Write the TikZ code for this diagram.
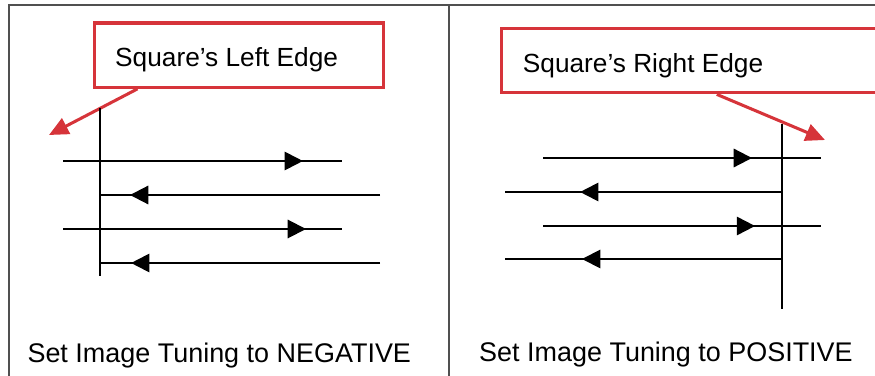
\documentclass[tikz,border=0pt]{standalone}
\usepackage{fontspec}
\setmainfont{Liberation Sans}
\usetikzlibrary{arrows.meta,calc,decorations.markings}

\definecolor{calloutred}{RGB}{214,52,58}
\definecolor{framegray}{RGB}{80,80,80}

\tikzset{
    frameline/.style={draw=framegray, line width=1.9pt},
    callout/.style={draw=calloutred, line width=2.6pt, minimum width=#1, minimum height=1.93cm, anchor=north west, inner sep=0pt},
    pointer/.style={draw=calloutred, line width=2.6pt, -{Triangle[length=0.58cm,width=0.52cm]}},
    scanline/.style={line width=1.7pt},
    flowmark/.style={postaction={decorate}, decoration={markings, mark=at position #1 with {\arrow{Triangle[length=0.55cm,width=0.55cm]}}}},
    caption/.style={font=\fontsize{23}{27}\selectfont, anchor=base west, inner sep=0pt},
    calltext/.style={font=\fontsize{22.4}{27}\selectfont, anchor=base west, inner sep=0pt},
}

\begin{document}
\begin{tikzpicture}[x=0.03cm, y=-0.03cm]

    \useasboundingbox (0,0) rectangle (875,376);
    \clip (0,0) rectangle (875,376);

    % PANEL FRAMES
    \draw[frameline] (9,376) -- (9,5) -- (875,5);
    \draw[frameline] (449,5) -- (449,376);

    % 1. LEFT PANEL (NEGATIVE)
    \node[callout=8.67cm] (lbox) at (92.5,21.5) {};
    \node[calltext] (ltext) at (115,66.7) {Square’s Left Edge};
    \coordinate (ltip) at (49,135);
    \draw[pointer] ($(lbox.south west)!0.154!(lbox.south east)$) -- (ltip);

    \coordinate (ltop) at (100,108);
    \coordinate (lbot) at (100,276);
    \draw[scanline] (ltop) -- (lbot);

    \coordinate (l1a) at (63,161);   \coordinate (l1b) at (342,161);
    \coordinate (l2a) at (380,195);  \coordinate (l2b) at (100,195);
    \coordinate (l3a) at (63,229);   \coordinate (l3b) at (342,229);
    \coordinate (l4a) at (380,263);  \coordinate (l4b) at (100,263);
    \draw[scanline, flowmark=0.86] (l1a) -- (l1b);
    \draw[scanline, flowmark=0.893] (l2a) -- (l2b);
    \draw[scanline, flowmark=0.871] (l3a) -- (l3b);
    \draw[scanline, flowmark=0.889] (l4a) -- (l4b);

    \node[caption] (lcap) at (27.3,362.5) {Set Image Tuning to NEGATIVE};

    % 2. RIGHT PANEL (POSITIVE)
    \node[callout=11.4cm] (rbox) at (500,27) {};
    \node[calltext] (rtext) at (522.7,72.7) {Square’s Right Edge};
    \coordinate (rtip) at (825,140);
    \draw[pointer] ($(rbox.south west)!0.566!(rbox.south east)$) -- (rtip);

    \coordinate (rtop) at (782,124);
    \coordinate (rbot) at (782,309);
    \draw[scanline] (rtop) -- (rbot);

    \coordinate (r1a) at (543,158);  \coordinate (r1b) at (821,158);
    \coordinate (r2a) at (782,192);  \coordinate (r2b) at (505,192);
    \coordinate (r3a) at (543,226);  \coordinate (r3b) at (821,226);
    \coordinate (r4a) at (782,259);  \coordinate (r4b) at (505,259);
    \draw[scanline, flowmark=0.752] (r1a) -- (r1b);
    \draw[scanline, flowmark=0.729] (r2a) -- (r2b);
    \draw[scanline, flowmark=0.763] (r3a) -- (r3b);
    \draw[scanline, flowmark=0.722] (r4a) -- (r4b);

    \node[caption] (rcap) at (479,361) {Set Image Tuning to POSITIVE};

\end{tikzpicture}
\end{document}
